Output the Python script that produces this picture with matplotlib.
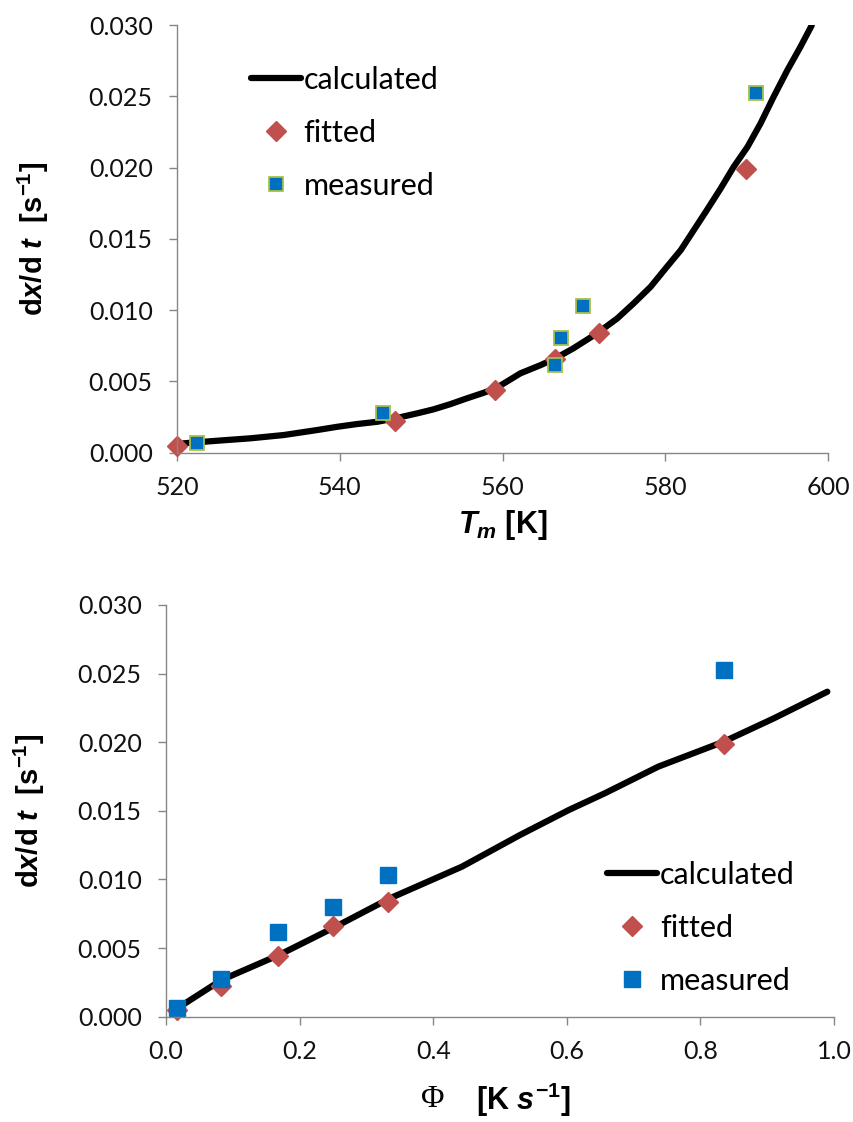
import matplotlib.pyplot as plt

plt.rcParams['font.family'] = ['Lato', 'DejaVu Sans']
plt.rcParams['mathtext.fontset'] = 'custom'
plt.rcParams['mathtext.rm'] = 'Liberation Sans:bold'
plt.rcParams['mathtext.it'] = 'Liberation Sans:bold:italic'
plt.rcParams['mathtext.bf'] = 'Liberation Sans:bold'

# heating rates Phi [K/s] and peak temperatures Tm [K]
heating_rate = [0.017, 0.083, 0.167, 0.250, 0.333, 0.835]
tm_fitted = [520.0, 546.8, 559.1, 566.5, 571.8, 589.9]
tm_measured = [522.5, 545.3, 566.5, 567.2, 569.9, 591.1]

# reaction rate dx/dt at the peak [1/s]
rate_fitted = [0.00047, 0.00224, 0.00440, 0.00660, 0.00837, 0.01987]
rate_measured = [0.00066, 0.00276, 0.00615, 0.00802, 0.01029, 0.02525]

# model curve vs Tm
tm_calc = [520.8, 524.9, 529.0, 533.1, 537.2, 539.7, 542.1, 544.6, 546.8,
           549.5, 551.5, 553.6, 555.6, 557.7, 559.1, 559.7, 562.2, 564.7,
           566.5, 568.7, 571.6, 574.1, 576.1, 578.2, 580.2, 581.9, 583.5,
           585.1, 586.8, 588.4, 590.1, 591.7, 593.3, 595.0, 596.6, 598.0]
rate_calc_tm = [0.00066, 0.00084, 0.00101, 0.00124, 0.00159, 0.00182, 0.00201,
                0.00217, 0.00241, 0.00276, 0.00304, 0.00341, 0.00381, 0.00421,
                0.00451, 0.00470, 0.00557, 0.00615, 0.00662, 0.00732, 0.00837,
                0.00942, 0.01047, 0.01164, 0.01304, 0.01421, 0.01561, 0.01701,
                0.01853, 0.02005, 0.02145, 0.02309, 0.02495, 0.02683, 0.02846,
                0.02998]

# model curve vs heating rate
phi_calc = [0.017, 0.083, 0.169, 0.252, 0.335, 0.443, 0.530, 0.603, 0.657,
            0.737, 0.835, 0.910, 0.990]
rate_calc_phi = [0.00061, 0.00267, 0.00449, 0.00651, 0.00862, 0.01093, 0.01324,
                 0.01506, 0.01628, 0.01822, 0.02004, 0.02174, 0.02368]

RED = '#C0504D'
BLUE = '#0070C0'
GRID = '#868686'
LABEL_FONT = dict(family='Liberation Sans', weight='bold')

fig = plt.figure(figsize=(8.54, 11.22), dpi=100)
ax1 = fig.add_axes([0.2073, 0.5965, 0.7623, 0.3812])
ax2 = fig.add_axes([0.1944, 0.0939, 0.7822, 0.3669])


def style_axes(ax):
    for side in ['top', 'right']:
        ax.spines[side].set_visible(False)
    for side in ['left', 'bottom']:
        ax.spines[side].set_color(GRID)
        ax.spines[side].set_linewidth(1.0)
    ax.tick_params(direction='out', length=5.5, width=1.0, color=GRID,
                   labelsize=18, labelcolor='#111111')
    ax.tick_params(axis='y', pad=12)
    ax.tick_params(axis='x', pad=11)
    ax.set_ylim(0, 0.030)
    ax.set_yticks([0, 0.005, 0.010, 0.015, 0.020, 0.025, 0.030])
    ax.set_yticklabels(['%.3f' % v for v in ax.get_yticks()])


def add_legend(ax, anchor):
    ax.legend(loc='upper left', bbox_to_anchor=anchor, frameon=False,
              fontsize=22, handlelength=1.65, handletextpad=0.08,
              labelspacing=0.82, borderpad=0, borderaxespad=0, numpoints=1)


# --- rate vs peak temperature ---
style_axes(ax1)
ax1.plot(tm_calc, rate_calc_tm, color='black', lw=4.5, solid_capstyle='round',
         label='calculated')
ax1.plot(tm_fitted, rate_fitted, ls='none', marker='D', ms=10, mfc=RED, mec=RED,
         clip_on=False, label='fitted')
ax1.plot(tm_measured, rate_measured, ls='none', marker='s', ms=9.5, mfc=BLUE,
         mec='#A8BE4A', mew=1.3, clip_on=False, label='measured')
ax1.set_xlim(520, 600)
ax1.set_xticks([520, 540, 560, 580, 600])
ax1.set_xlabel(r'$T_m$ [K]', fontsize=22, fontdict=LABEL_FONT)
ax1.xaxis.set_label_coords(0.5, -0.13)
ax1.set_ylabel(r'd$x$/d $t$  [s$^{-1}$]', fontsize=21, va='center',
               fontdict=LABEL_FONT)
ax1.yaxis.set_label_coords(-0.22, 0.5)
add_legend(ax1, (0.113, 0.905))

# --- rate vs heating rate ---
style_axes(ax2)
ax2.plot(phi_calc, rate_calc_phi, color='black', lw=4.5, solid_capstyle='round',
         label='calculated')
ax2.plot(heating_rate, rate_fitted, ls='none', marker='D', ms=10, mfc=RED,
         mec=RED, clip_on=False, label='fitted')
ax2.plot(heating_rate, rate_measured, ls='none', marker='s', ms=12, mfc=BLUE,
         mec=BLUE, clip_on=False, label='measured')
ax2.set_xlim(0, 1.0)
ax2.set_xticks([0, 0.2, 0.4, 0.6, 0.8, 1.0])
ax2.set_xticklabels(['%.1f' % v for v in ax2.get_xticks()])
ax2.set_xlabel(r'[K $s^{-1}$]', fontsize=22, fontdict=LABEL_FONT)
ax2.xaxis.set_label_coords(0.535, -0.155)
ax2.text(0.40, -0.165, '\u03a6', transform=ax2.transAxes, fontsize=23,
         family='Liberation Serif', ha='center', va='top')
ax2.set_ylabel(r'd$x$/d $t$  [s$^{-1}$]', fontsize=21, va='center',
               fontdict=LABEL_FONT)
ax2.yaxis.set_label_coords(-0.205, 0.5)
add_legend(ax2, (0.66, 0.378))

fig.savefig('out.png', dpi=100)
